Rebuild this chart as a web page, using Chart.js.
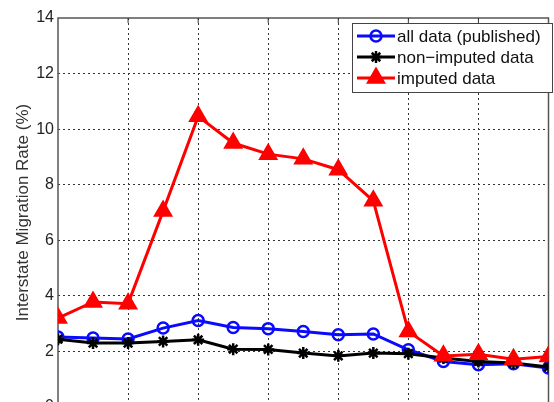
<!DOCTYPE html>
<html>
<head>
<meta charset="utf-8">
<script src="https://cdn.jsdelivr.net/npm/chart.js@4"></script>
<style>
html, body { margin: 0; padding: 0; overflow: hidden; background: #fff; }
#wrap { position: relative; width: 560px; height: 440px; }
</style>
</head>
<body>
<div id="wrap"><canvas id="myChart"></canvas></div>
<script>
// valores
const periods = [0, 1, 2, 3, 4, 5, 6, 7, 8, 9, 10, 11, 12, 13, 14];
const allData = [2.52, 2.48, 2.45, 2.84, 3.11, 2.86, 2.82, 2.72, 2.60, 2.63, 2.06, 1.64, 1.52, 1.56, 1.40];
const nonImputed = [2.44, 2.30, 2.30, 2.36, 2.42, 2.08, 2.07, 1.94, 1.84, 1.94, 1.92, 1.76, 1.64, 1.58, 1.44];
const imputed = [3.20, 3.78, 3.72, 7.05, 10.46, 9.50, 9.10, 8.93, 8.54, 7.42, 2.72, 1.84, 1.90, 1.72, 1.82];
const yTicks = [0, 2, 4, 6, 8, 10, 12, 14];
const seriesNames = ['all data (published)', 'non\u2212imputed data', 'imputed data'];
const yTitle = 'Interstate Migration Rate (%)';

const FONT = "'Liberation Sans', Arial, sans-serif";

function pairs(values) {
    return periods.map((p, i) => ({ x: p, y: values[i] }));
}

// caixa dos eixos (estilo matlab)
const axesBox = {
    id: 'axesBox',
    beforeDatasetsDraw(chart) {
        const { ctx, chartArea: a } = chart;
        const xs = chart.scales.x;
        ctx.save();
        ctx.strokeStyle = '#555';
        ctx.lineWidth = 1.5;
        ctx.strokeRect(a.left, a.top, a.right - a.left, a.bottom - a.top);
        ctx.lineWidth = 1;
        ctx.strokeStyle = '#333';
        for (let v = 2; v < 14; v += 2) {
            const px = xs.getPixelForValue(v);
            ctx.beginPath();
            ctx.moveTo(px, a.top);
            ctx.lineTo(px, a.top + 5);
            ctx.stroke();
        }
        ctx.restore();
    }
};

// legenda desenhada dentro do gráfico
const boxLegend = {
    id: 'boxLegend',
    afterDraw(chart) {
        const ctx = chart.ctx;
        const x0 = 352, y0 = 23, w = 200, h = 69;
        const rows = [36, 57, 78];
        ctx.save();
        ctx.fillStyle = '#fff';
        ctx.fillRect(x0, y0, w, h);
        ctx.strokeStyle = '#444';
        ctx.lineWidth = 1;
        ctx.strokeRect(x0 + 0.5, y0 + 0.5, w, h);
        chart.data.datasets.forEach((ds, i) => {
            const y = rows[i];
            ctx.strokeStyle = ds.borderColor;
            ctx.lineWidth = ds.borderWidth;
            ctx.beginPath();
            ctx.moveTo(357, y);
            ctx.lineTo(395, y);
            ctx.stroke();
            ctx.fillStyle = ds.pointBackgroundColor;
            ctx.strokeStyle = ds.borderColor;
            ctx.lineWidth = ds.pointBorderWidth;
            Chart.helpers.drawPoint(ctx, {
                pointStyle: ds.pointStyle,
                radius: ds.pointRadius,
                borderWidth: ds.pointBorderWidth,
                rotation: 0
            }, 376, y);
            ctx.fillStyle = '#111';
            ctx.font = '17px ' + FONT;
            ctx.textBaseline = 'middle';
            ctx.textAlign = 'left';
            ctx.fillText(seriesNames[i], 397, y + 1);
        });
        ctx.restore();
    }
};

const ctx = document.getElementById('myChart').getContext('2d');
window.myChart = new Chart(ctx, {
    type: 'line',
    data: {
        datasets: [{
            label: seriesNames[0],
            data: pairs(allData),
            borderColor: '#0a0aff',
            backgroundColor: 'rgba(0,0,255,0)',
            borderWidth: 3,
            pointStyle: 'circle',
            pointRadius: 5.5,
            pointBorderWidth: 2.5,
            pointBackgroundColor: 'rgba(0,0,0,0)',
            order: 3
        }, {
            label: seriesNames[1],
            data: pairs(nonImputed),
            borderColor: '#000',
            backgroundColor: '#000',
            borderWidth: 3,
            pointStyle: 'star',
            pointRadius: 6,
            pointBorderWidth: 2.5,
            pointBackgroundColor: '#000',
            order: 2
        }, {
            label: seriesNames[2],
            data: pairs(imputed),
            borderColor: '#f00',
            backgroundColor: '#f00',
            borderWidth: 3,
            pointStyle: 'triangle',
            pointRadius: 9.5,
            pointBorderWidth: 2,
            pointBackgroundColor: '#f00',
            order: 1
        }]
    },
    options: {
        responsive: true,
        maintainAspectRatio: false,
        animation: false,
        events: [],
        layout: { padding: { top: 18, right: 3, left: 0, bottom: 0 } },
        elements: { line: { tension: 0 } },
        scales: {
            x: {
                type: 'linear',
                min: 0,
                max: 14,
                ticks: { display: false, stepSize: 2 },
                grid: {
                    drawTicks: false,
                    color: c => (c.tick.value === 0 || c.tick.value === 14) ? 'rgba(0,0,0,0)' : '#333',
                    lineWidth: 1
                },
                border: { display: false, dash: [2, 3] },
                afterFit(scale) { scale.height = 33; }
            },
            y: {
                min: 0,
                max: 14,
                afterBuildTicks(scale) { scale.ticks = yTicks.map(v => ({ value: v })); },
                ticks: {
                    padding: 4,
                    color: '#222',
                    font: { family: FONT, size: 16 }
                },
                grid: {
                    drawTicks: false,
                    color: c => (c.tick.value === 0 || c.tick.value === 14) ? 'rgba(0,0,0,0)' : '#333',
                    lineWidth: 1
                },
                border: { display: false, dash: [2, 3] },
                title: {
                    display: true,
                    text: yTitle,
                    color: '#333',
                    font: { family: FONT, size: 17 },
                    padding: { top: 13, bottom: 0 }
                },
                afterFit(scale) { scale.width = 58; }
            }
        },
        plugins: {
            legend: { display: false },
            tooltip: { enabled: false }
        }
    },
    plugins: [axesBox, boxLegend]
});
</script>
</body>
</html>
